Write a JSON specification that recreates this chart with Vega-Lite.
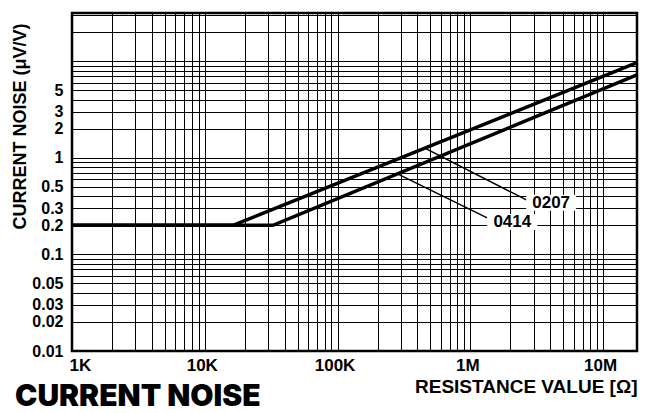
{
  "$schema": "https://vega.github.io/schema/vega-lite/v6.json",
  "width": 565,
  "height": 338,
  "autosize": "none",
  "padding": {"left": 72, "top": 13, "right": 10, "bottom": 62},
  "background": "white",
  "title": {
    "text": "CURRENT NOISE",
    "orient": "bottom",
    "anchor": "start",
    "frame": "group",
    "font": "Inter",
    "fontWeight": 900,
    "fontSize": 30,
    "color": "black",
    "dx": -57,
    "offset": -14
  },
  "config": {
    "view": {"stroke": "black", "strokeWidth": 2.5},
    "axis": {
      "grid": true,
      "gridColor": "black",
      "gridOpacity": 1,
      "gridWidth": 1,
      "domain": false,
      "ticks": false,
      "labelFont": "Liberation Sans",
      "labelFontWeight": "bold",
      "labelFontSize": 17,
      "labelColor": "black",
      "titleFont": "Liberation Sans",
      "titleFontWeight": "bold",
      "titleFontSize": 18,
      "titleColor": "black"
    }
  },
  "datasets": {
    "curves": [
      {"series": "0207", "R": 1000, "noise": 0.2},
      {"series": "0207", "R": 16300, "noise": 0.2},
      {"series": "0207", "R": 18000000, "noise": 9.66},
      {"series": "0414", "R": 1000, "noise": 0.2},
      {"series": "0414", "R": 32600, "noise": 0.2},
      {"series": "0414", "R": 18000000, "noise": 7.24}
    ],
    "leaders": [
      {"series": "0207", "R": 451000, "noise": 1.27, "R2": 2640000, "n2": 0.367},
      {"series": "0414", "R": 278000, "noise": 0.69, "R2": 1340000, "n2": 0.239}
    ],
    "labels": [
      {"series": "0207", "R": 4060000, "noise": 0.342},
      {"series": "0414", "R": 2070000, "noise": 0.217}
    ]
  },
  "layer": [
    {
      "data": {"name": "curves"},
      "mark": {"type": "line", "color": "black", "strokeWidth": 3.5, "clip": true},
      "encoding": {
        "x": {
          "field": "R",
          "type": "quantitative",
          "title": "RESISTANCE VALUE [Ω]",
          "scale": {"type": "log", "domain": [1000, 18000000], "nice": false},
          "axis": {
            "titleX": 565,
            "titleY": 35,
            "titleAlign": "right",
            "titleBaseline": "middle",
            "titleAngle": 0,
            "titleFontSize": 19,
            "labelPadding": 6,
            "labelFlush": true,
            "labelOffset": -3,
            "values": [1000, 2000, 3000, 4000, 5000, 6000, 7000, 8000, 9000, 10000, 20000, 30000, 40000, 50000, 60000, 70000, 80000, 90000, 100000, 200000, 300000, 400000, 500000, 600000, 700000, 800000, 900000, 1000000, 2000000, 3000000, 4000000, 5000000, 6000000, 7000000, 8000000, 9000000, 10000000],
            "labelExpr": "datum.value == 1000 ? '1K' : datum.value == 10000 ? '10K' : datum.value == 100000 ? '100K' : datum.value == 1000000 ? '1M' : datum.value == 10000000 ? '10M' : ''"
          }
        },
        "y": {
          "field": "noise",
          "type": "quantitative",
          "title": "CURRENT NOISE (μV/V)",
          "scale": {"type": "log", "domain": [0.01, 31.6], "nice": false},
          "axis": {
            "titleX": -52,
            "titleY": 113,
            "titleAlign": "center",
            "titleBaseline": "middle",
            "titleAngle": -90,
            "labelPadding": 9,
            "labelFontSize": 16,
            "values": [0.01, 0.02, 0.03, 0.04, 0.05, 0.06, 0.07, 0.08, 0.09, 0.1, 0.2, 0.3, 0.4, 0.5, 0.6, 0.7, 0.8, 0.9, 1, 2, 3, 4, 5, 6, 7, 8, 9, 10, 20, 30],
            "labelExpr": "indexof([0.01, 0.02, 0.03, 0.05, 0.1, 0.2, 0.3, 0.5, 1, 2, 3, 5], datum.value) >= 0 ? '' + datum.value : ''"
          }
        },
        "detail": {"field": "series"}
      }
    },
    {
      "data": {"name": "leaders"},
      "mark": {"type": "rule", "color": "black", "strokeWidth": 1.5},
      "encoding": {
        "x": {"field": "R", "type": "quantitative", "title": "RESISTANCE VALUE [Ω]"},
        "y": {"field": "noise", "type": "quantitative", "title": "CURRENT NOISE (μV/V)"},
        "x2": {"field": "R2", "title": "RESISTANCE VALUE [Ω]"},
        "y2": {"field": "n2", "title": "CURRENT NOISE (μV/V)"}
      }
    },
    {
      "data": {"name": "labels"},
      "mark": {"type": "point", "shape": "M-2.5,-0.8H2.5V0.8H-2.5Z", "size": 400, "filled": true, "color": "white", "opacity": 1},
      "encoding": {
        "x": {"field": "R", "type": "quantitative", "title": "RESISTANCE VALUE [Ω]"},
        "y": {"field": "noise", "type": "quantitative", "title": "CURRENT NOISE (μV/V)"}
      }
    },
    {
      "data": {"name": "labels"},
      "mark": {"type": "text", "font": "Liberation Sans", "fontWeight": "bold", "fontSize": 17, "color": "black", "align": "center", "baseline": "middle"},
      "encoding": {
        "x": {"field": "R", "type": "quantitative", "title": "RESISTANCE VALUE [Ω]"},
        "y": {"field": "noise", "type": "quantitative", "title": "CURRENT NOISE (μV/V)"},
        "text": {"field": "series"}
      }
    }
  ]
}
